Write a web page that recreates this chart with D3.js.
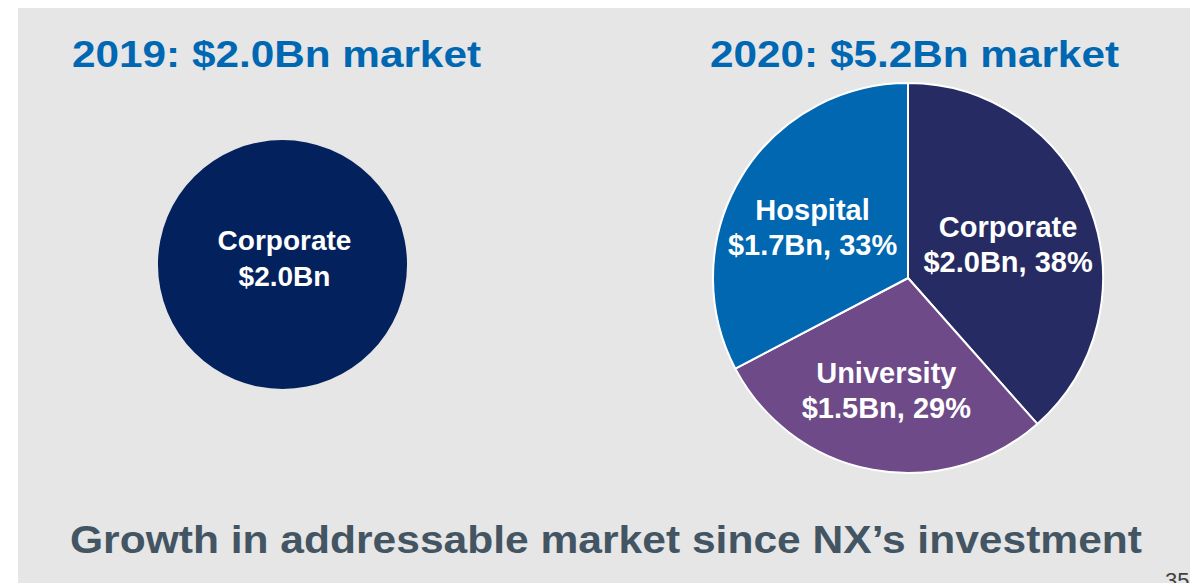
<!DOCTYPE html>
<html>
<head>
<meta charset="utf-8">
<script src="https://cdn.jsdelivr.net/npm/d3@7"></script>
<style>
body { margin: 0; background: #fff; }
svg { display: block; font-family: "Liberation Sans", Arial, sans-serif; }
</style>
</head>
<body>
<div class="chart"></div>
<script>
var width = 1190;
var height = 583;

// 2019 market (single segment)
var cats2019 = ["Corporate"];
var vals2019 = [2.0];
// 2020 market
var cats2020 = ["Corporate", "University", "Hospital"];
var vals2020 = [2.0, 1.5, 1.7];
var titles = ["2019: $2.0Bn market", "2020: $5.2Bn market"];
var footer = "Growth in addressable market since NX\u2019s investment";
var pageNo = "35";

var color2019 = d3.scaleOrdinal().domain(cats2019).range(["#03215c"]);
var color2020 = d3.scaleOrdinal().domain(cats2020).range(["#262c63", "#6e4a88", "#0067b0"]);

var svg = d3.select(".chart").append("svg")
  .attr("width", width)
  .attr("height", height);

svg.append("rect")
  .attr("x", 18).attr("y", 8)
  .attr("width", width - 18).attr("height", height - 8)
  .attr("fill", "#e6e6e6");

var fmtBn = function(v) { return "$" + d3.format(".1f")(v) + "Bn"; };
var fmtPct = d3.format(".0%");

var pie = d3.pie().sort(null).value(function(d) { return d.value; });

// left: 2019
var r1 = 124.5;
var g1 = svg.append("g").attr("transform", "translate(282.5,264.5)");
var data1 = cats2019.map(function(c, i) { return {name: c, value: vals2019[i]}; });
g1.selectAll("path")
  .data(pie(data1))
  .enter().append("path")
  .attr("d", d3.arc().innerRadius(0).outerRadius(r1))
  .attr("fill", function(d) { return color2019(d.data.name); });

var lab1 = g1.selectAll("text.lab")
  .data(data1)
  .enter().append("text")
  .attr("class", "lab")
  .attr("text-anchor", "middle")
  .attr("fill", "#fff")
  .attr("font-weight", "bold")
  .attr("font-size", "28px");
lab1.append("tspan").attr("x", 2).attr("y", -15).text(function(d) { return d.name; });
lab1.append("tspan").attr("x", 2).attr("y", 21).text(function(d) { return fmtBn(d.value); });

// right: 2020
var r2 = 195;
var total = d3.sum(vals2020);
var g2 = svg.append("g").attr("transform", "translate(908,278)");
var data2 = cats2020.map(function(c, i) { return {name: c, value: vals2020[i]}; });
var arcs2 = pie(data2);
g2.selectAll("path")
  .data(arcs2)
  .enter().append("path")
  .attr("d", d3.arc().innerRadius(0).outerRadius(r2))
  .attr("fill", function(d) { return color2020(d.data.name); })
  .attr("stroke", "#fff")
  .attr("stroke-width", 2)
  .attr("stroke-linejoin", "round");

var labelArc = d3.arc().innerRadius(r2 * 0.56).outerRadius(r2 * 0.56);
var lab2 = g2.selectAll("text.lab")
  .data(arcs2)
  .enter().append("text")
  .attr("class", "lab")
  .attr("text-anchor", "middle")
  .attr("fill", "#fff")
  .attr("font-weight", "bold")
  .attr("font-size", "29px")
  .attr("transform", function(d) { var c = labelArc.centroid(d); return "translate(" + c[0] + "," + c[1] + ")"; });
lab2.append("tspan").attr("x", -2).attr("y", -2).text(function(d) { return d.data.name; });
lab2.append("tspan").attr("x", -2).attr("y", 33)
  .text(function(d) { return fmtBn(d.data.value) + ", " + fmtPct(Math.round(d.data.value / total * 100) / 100); });

// titles
svg.selectAll("text.title")
  .data(titles)
  .enter().append("text")
  .attr("class", "title")
  .attr("x", function(d, i) { return i ? 710 : 72; })
  .attr("y", 67)
  .attr("fill", "#0068b3")
  .attr("font-weight", "bold")
  .attr("font-size", "37px")
  .attr("textLength", 409)
  .attr("lengthAdjust", "spacingAndGlyphs")
  .text(function(d) { return d; });

svg.append("text")
  .attr("x", 70)
  .attr("y", 553)
  .attr("fill", "#435563")
  .attr("font-weight", "bold")
  .attr("font-size", "39px")
  .attr("textLength", 1072)
  .attr("lengthAdjust", "spacingAndGlyphs")
  .text(footer);

// page number, cut by the bottom edge as in the slide
svg.append("text")
  .attr("x", 1165)
  .attr("y", 588)
  .attr("fill", "#404040")
  .attr("font-size", "22px")
  .text(pageNo);
</script>
</body>
</html>
